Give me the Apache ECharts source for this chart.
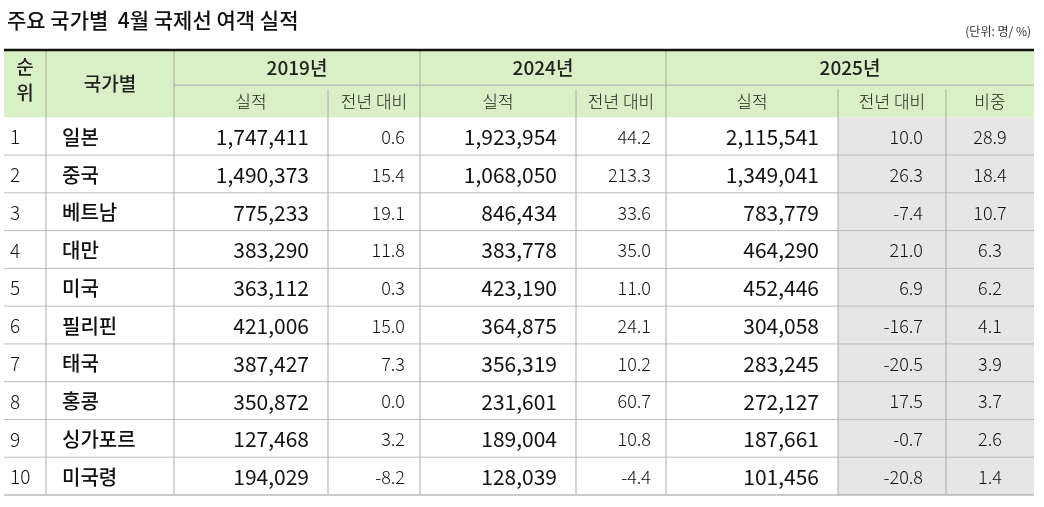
<!DOCTYPE html>
<html><head><meta charset="utf-8">
<script src="https://cdn.jsdelivr.net/npm/echarts@6/dist/echarts.min.js"></script>
<style>html,body{margin:0;background:#fff}#t{width:1044px;height:507px}</style>
</head><body><div id="t"></div>
<script>
const countries = ['일본', '중국', '베트남', '대만', '미국', '필리핀', '태국', '홍콩', '싱가포르', '미국령'];
const v2019 = ['1,747,411', '1,490,373', '775,233', '383,290', '363,112', '421,006', '387,427', '350,872', '127,468', '194,029'];
const g2019 = ['0.6', '15.4', '19.1', '11.8', '0.3', '15.0', '7.3', '0.0', '3.2', '-8.2'];
const v2024 = ['1,923,954', '1,068,050', '846,434', '383,778', '423,190', '364,875', '356,319', '231,601', '189,004', '128,039'];
const g2024 = ['44.2', '213.3', '33.6', '35.0', '11.0', '24.1', '10.2', '60.7', '10.8', '-4.4'];
const v2025 = ['2,115,541', '1,349,041', '783,779', '464,290', '452,446', '304,058', '283,245', '272,127', '187,661', '101,456'];
const g2025 = ['10.0', '26.3', '-7.4', '21.0', '6.9', '-16.7', '-20.5', '17.5', '-0.7', '-20.8'];
const share = ['28.9', '18.4', '10.7', '6.3', '6.2', '4.1', '3.9', '3.7', '2.6', '1.4'];
const years = ['2019년', '2024년', '2025년'];

// column edges (x) and row edges (y), table units
const colX = [0, 42, 170, 324, 416, 572, 662, 834, 942, 1030];
const headY = [0, 35, 67];
const rowH = 37.6;
const font = 'Noto Sans CJK KR';

const cols = [v2019, g2019, v2024, g2024, v2025, g2025, share];
const cells = [];
countries.forEach((c, r) => {
  cells.push([0, r, String(r + 1), 'rank']);
  cells.push([1, r, c, 'name']);
  cols.forEach((arr, k) => cells.push([k + 2, r, arr[r], k % 2 === 0 && k < 6 ? 'big' : (k === 6 ? 'share' : 'pct')]));
});

const chart = echarts.init(document.getElementById('t'));

function rowTop(r) { return headY[2] + r * rowH; }

chart.setOption({
  animation: false,
  title: [
    { text: '주요 국가별  4월 국제선 여객 실적', left: 2, top: 5, textStyle: { fontFamily: font, fontSize: 21, fontWeight: 500, color: '#111' } },
    { text: '(단위: 명/ %)', right: 8, top: 20, textStyle: { fontFamily: font, fontSize: 12, fontWeight: 'normal', color: '#333' } }
  ],
  grid: { left: 4, right: 10, top: 50, bottom: 12 },
  xAxis: { type: 'value', min: 0, max: 1030, show: false },
  yAxis: { type: 'value', min: 0, max: headY[2] + rowH * 10, inverse: true, show: false },
  series: [
    {
      // header & backgrounds
      type: 'custom',
      data: [0],
      renderItem: (p, api) => {
        const P = (x, y) => api.coord([x, y]);
        const ch = [];
        const rect = (x0, y0, x1, y1, fill) => {
          const a = P(x0, y0), b = P(x1, y1);
          ch.push({ type: 'rect', shape: { x: a[0], y: a[1], width: b[0] - a[0], height: b[1] - a[1] }, style: { fill } });
        };
        const line = (x0, y0, x1, y1, stroke, w) => {
          const a = P(x0, y0), b = P(x1, y1);
          ch.push({ type: 'line', shape: { x1: a[0], y1: a[1], x2: b[0], y2: b[1] }, style: { stroke, lineWidth: w } });
        };
        const text = (x, y, s, size, weight) => {
          const a = P(x, y);
          ch.push({ type: 'text', x: a[0], y: a[1], style: { text: s, fontFamily: font, fontSize: size, fontWeight: weight || 400, fill: '#222', align: 'center', verticalAlign: 'middle' } });
        };
        const bottom = rowTop(10);
        rect(0, 0, 1030, headY[2], '#d9efc6');
        rect(colX[7], headY[2], colX[9], bottom, '#e6e6e6');
        line(colX[2], headY[1], 1030, headY[1], '#aaa', 1);
        for (let r = 1; r < 10; r++) line(0, rowTop(r), 1030, rowTop(r), '#bbb', 1);
        line(0, bottom, 1030, bottom, '#999', 1);
        [1, 2, 4, 6].forEach(i => line(colX[i], 0, colX[i], bottom, '#aaa', 1));
        [3, 5, 7, 8].forEach(i => line(colX[i], headY[1] + 4, colX[i], bottom, '#aaa', 1));
        line(0, 0, 1030, 0, '#111', 2.5);
        text(21, 17, '순', 19, 500); text(21, 43, '위', 19, 500);
        text(106, 34, '국가별', 19, 500);
        years.forEach((y, i) => text((colX[2 + i * 2] + colX[i === 2 ? 9 : 4 + i * 2]) / 2, 18, y, 19, 500));
        const sub = ['실적', '전년 대비', '실적', '전년 대비', '실적', '전년 대비', '비중'];
        sub.forEach((s, k) => text((colX[k + 2] + colX[k + 3]) / 2, 51, s, 17, 300));
        return { type: 'group', children: ch };
      }
    },
    {
      type: 'custom',
      data: cells,
      renderItem: (p, api) => {
        const c = api.value(0), r = api.value(1);
        const s = cells[p.dataIndex][2], kind = cells[p.dataIndex][3];
        const yMid = rowTop(r) + rowH / 2;
        let x, align = 'right', size = 18, weight = 300;
        if (kind === 'rank') { x = colX[0] + 6; align = 'left'; size = 19; }
        else if (kind === 'name') { x = colX[1] + 16; align = 'left'; size = 20; weight = 500; }
        else if (kind === 'big') { x = colX[c + 1] - 19; size = 21; weight = 400; }
        else if (kind === 'share') { x = (colX[c] + colX[c + 1]) / 2; align = 'center'; }
        else { x = colX[c + 1] - (c === 7 ? 23 : 15); }
        const a = api.coord([x, yMid]);
        return { type: 'text', x: a[0], y: a[1] + 1, style: { text: s, fontFamily: font, fontSize: size, fontWeight: weight, fill: '#111', align, verticalAlign: 'middle' } };
      }
    }
  ]
});
</script></body></html>
